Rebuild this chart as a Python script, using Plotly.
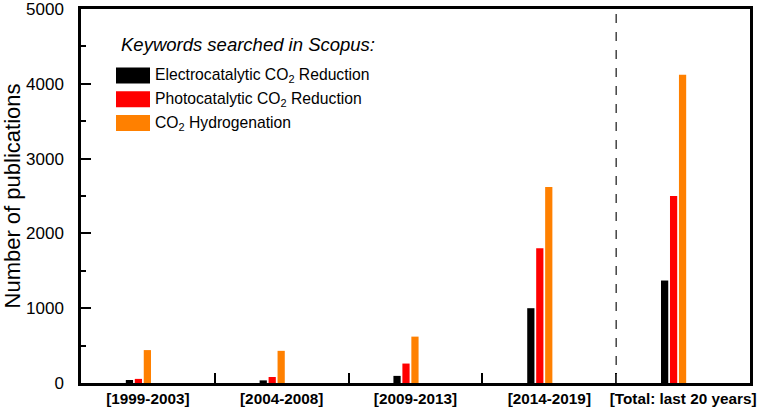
import plotly.graph_objects as go

categories = ["[1999-2003]", "[2004-2008]", "[2009-2013]", "[2014-2019]", "[Total: last 20 years]"]
series_names = ["Electrocatalytic CO<sub>2</sub> Reduction",
                "Photocatalytic CO<sub>2</sub> Reduction",
                "CO<sub>2</sub> Hydrogenation"]
electro = [40, 35, 95, 1000, 1370]
photo = [55, 80, 260, 1800, 2500]
hydro = [440, 430, 620, 2620, 4120]
colors = ["#000000", "#FF0000", "#FF8000"]
legend_title = "Keywords searched in Scopus:"

values = [electro, photo, hydro]
offsets = [-0.165, -0.098, -0.031]
bar_w = 0.054

FONT = "Liberation Sans, Arial, sans-serif"
TOP, BOT = 9, 383
PH = BOT - TOP

fig = go.Figure()
for name, vals, col, off in zip(series_names, values, colors, offsets):
    fig.add_trace(go.Bar(x=categories, y=vals, name=name, marker_color=col,
                         marker_line_width=0, width=bar_w, offset=off,
                         showlegend=False))

# dashed separator between last period and total
fig.add_shape(type="line", xref="x", yref="paper",
              x0=len(categories) - 1.5, x1=len(categories) - 1.5, y0=0, y1=1,
              line=dict(color="#444444", width=1.5, dash="dash"))

# custom legend
fig.add_annotation(xref="paper", yref="paper", x=(119 - 81) / 669, y=(BOT - 44) / PH,
                   xanchor="left", yanchor="middle", showarrow=False,
                   text="<i>" + legend_title + "</i>",
                   font=dict(family=FONT, size=18.5, color="black"))
for i, (name, col) in enumerate(zip(series_names, colors)):
    cy = 75.5 + 23.8 * i
    fig.add_shape(type="rect", xref="paper", yref="paper",
                  x0=(116 - 81) / 669, x1=(150 - 81) / 669,
                  y0=(BOT - (cy - 8)) / PH, y1=(BOT - (cy + 8)) / PH,
                  fillcolor=col, line=dict(width=0))
    fig.add_annotation(xref="paper", yref="paper", x=(153 - 81) / 669, y=(BOT - cy) / PH,
                       xanchor="left", yanchor="middle", showarrow=False,
                       text=name, font=dict(family=FONT, size=15.7, color="black"))

fig.update_layout(
    width=768, height=409,
    margin=dict(l=81, r=18, t=TOP, b=409 - BOT),
    plot_bgcolor="white", paper_bgcolor="white",
    font=dict(family=FONT, color="black"),
    barmode="overlay",
    xaxis=dict(type="category", range=[-0.5, len(categories) - 0.5],
               showline=True, linecolor="black", linewidth=2.5, mirror=True,
               ticks="inside", ticklen=10, tickwidth=2, tickcolor="black",
               tickson="boundaries", tickangle=0, ticklabeloverflow="allow",
               tickfont=dict(family=FONT, size=15.3, color="black", weight="bold"),
               showgrid=False, zeroline=False, automargin=False),
    yaxis=dict(range=[0, 5000], dtick=1000, tick0=0,
               showline=True, linecolor="black", linewidth=2.5, mirror=True,
               ticks="inside", ticklen=10, tickwidth=2, tickcolor="black",
               minor=dict(dtick=500, ticks="inside", ticklen=5, tickwidth=2, tickcolor="black"),
               tickfont=dict(family=FONT, size=17, color="black"),
               ticklabelstandoff=11, ticklabeloverflow="allow",
               title=dict(text="Number of publications", font=dict(family=FONT, size=22, color="black"),
                          standoff=0),
               showgrid=False, zeroline=False, automargin=False),
)

fig.write_html("out.html", config={"displayModeBar": False},
               post_script="document.body.style.margin='0';")
